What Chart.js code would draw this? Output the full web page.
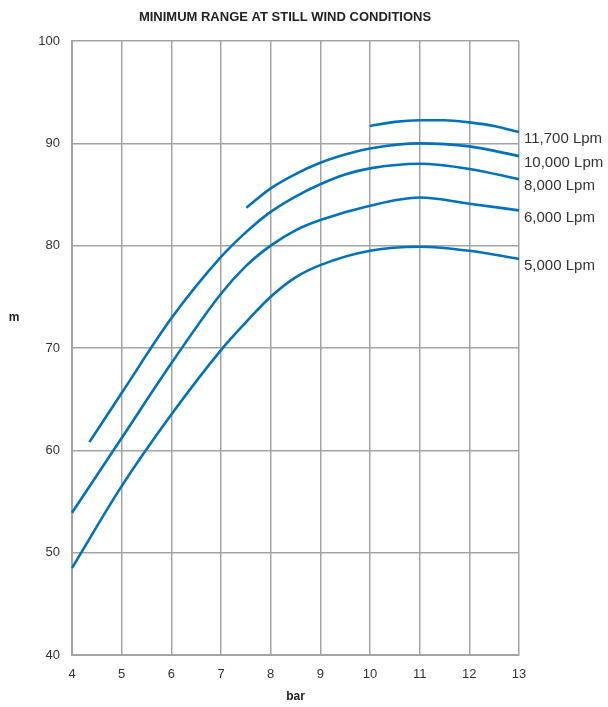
<!DOCTYPE html>
<html>
<head>
<meta charset="utf-8">
<script src="https://cdn.jsdelivr.net/npm/chart.js@4"></script>
<style>
  html, body { margin: 0; padding: 0; background: #ffffff; }
  #wrap { width: 608px; height: 707px; position: relative; }
</style>
</head>
<body>
<div id="wrap"><canvas id="c" width="608" height="707"></canvas></div>
<script>
const chartTitle = "MINIMUM RANGE AT STILL WIND CONDITIONS";
const xAxisTitle = "bar";
const yAxisTitle = "m";

const seriesLabels = ["5,000 Lpm", "6,000 Lpm", "8,000 Lpm", "10,000 Lpm", "11,700 Lpm"];

const bar5000 = [4, 5, 6, 7, 7.5, 8, 8.5, 9, 10, 11, 12, 13];
const m5000   = [48.5, 56.5, 63.5, 69.8, 72.5, 75.0, 76.9, 78.1, 79.5, 79.9, 79.5, 78.7];

const bar6000 = [4, 5, 6, 7, 7.5, 8, 8.5, 9, 10, 11, 12, 13];
const m6000   = [53.9, 61.2, 68.5, 75.3, 78.0, 80.0, 81.5, 82.5, 83.9, 84.7, 84.1, 83.45];

const bar8000 = [4.35, 5, 6, 7, 7.5, 8, 8.5, 9, 9.5, 10, 11, 12, 13];
const m8000   = [60.8, 65.6, 72.9, 78.9, 81.3, 83.3, 84.8, 86.0, 86.95, 87.55, 88.0, 87.5, 86.5];

const bar10000 = [7.51, 8, 8.5, 9, 9.5, 10, 11, 12, 13];
const m10000   = [83.7, 85.6, 87.0, 88.1, 88.9, 89.5, 90.0, 89.7, 88.75];

const bar11700 = [10, 10.5, 11, 11.5, 12, 12.5, 13];
const m11700   = [91.7, 92.1, 92.25, 92.25, 92.05, 91.7, 91.1];

const xTicks = [4, 5, 6, 7, 8, 9, 10, 11, 12, 13];
const yTicks = [40, 50, 60, 70, 80, 90, 100];

const lineColor = "rgb(0, 114, 187)";
const gridColor = "#a3a3a3";
const textColor = "#333333";
const fontFamily = "'Liberation Sans', Arial, sans-serif";

function pts(xs, ys) { return xs.map((x, i) => ({ x: x, y: ys[i] })); }

const seriesData = [
  pts(bar5000, m5000),
  pts(bar6000, m6000),
  pts(bar8000, m8000),
  pts(bar10000, m10000),
  pts(bar11700, m11700)
];

const textPlugin = {
  id: 'textPlugin',
  afterDraw(chart) {
    const ctx = chart.ctx;
    const area = chart.chartArea;
    ctx.save();
    ctx.fillStyle = "#222222";
    ctx.font = "bold 13px " + fontFamily;
    ctx.textAlign = "center";
    ctx.textBaseline = "middle";
    ctx.fillText(chartTitle, 285, 17);
    ctx.font = "bold 12px " + fontFamily;
    ctx.fillText(yAxisTitle, 14, 318);
    ctx.fillText(xAxisTitle, (area.left + area.right) / 2, 697);
    // series labels at line ends
    ctx.font = "15px " + fontFamily;
    ctx.fillStyle = textColor;
    ctx.textAlign = "left";
    chart.data.datasets.forEach((ds, i) => {
      const meta = chart.getDatasetMeta(i);
      const last = meta.data[meta.data.length - 1];
      ctx.fillText(ds.label, area.right + 5, last.y + 7);
    });
    ctx.restore();
  }
};

new Chart(document.getElementById('c'), {
  type: 'line',
  data: {
    datasets: seriesData.map((d, i) => ({
      label: seriesLabels[i],
      data: d,
      borderColor: lineColor,
      borderWidth: 2.6,
      pointRadius: 0,
      fill: false,
      cubicInterpolationMode: 'monotone',
      clip: false
    }))
  },
  options: {
    responsive: false,
    animation: false,
    devicePixelRatio: 1,
    layout: { padding: { left: 0, right: 89, top: 41, bottom: 0 } },
    plugins: {
      legend: { display: false },
      title: { display: false },
      tooltip: { enabled: false }
    },
    scales: {
      x: {
        type: 'linear',
        min: 4, max: 13,
        afterBuildTicks(scale) { scale.ticks = xTicks.map(v => ({ value: v })); },
        afterFit(scale) { scale.height = 52; },
        grid: { color: gridColor, lineWidth: 1.5, drawTicks: false },
        border: { color: gridColor, width: 2 },
        ticks: { padding: 12, color: textColor, font: { family: fontFamily, size: 13 }, maxRotation: 0 }
      },
      y: {
        type: 'linear',
        min: 40, max: 100,
        afterBuildTicks(scale) { scale.ticks = yTicks.map(v => ({ value: v })); },
        afterFit(scale) { scale.width = 72; },
        grid: { color: gridColor, lineWidth: 1.5, drawTicks: false },
        border: { color: gridColor, width: 2 },
        ticks: { padding: 12, color: textColor, font: { family: fontFamily, size: 13 } }
      }
    }
  },
  plugins: [textPlugin]
});
</script>
</body>
</html>
